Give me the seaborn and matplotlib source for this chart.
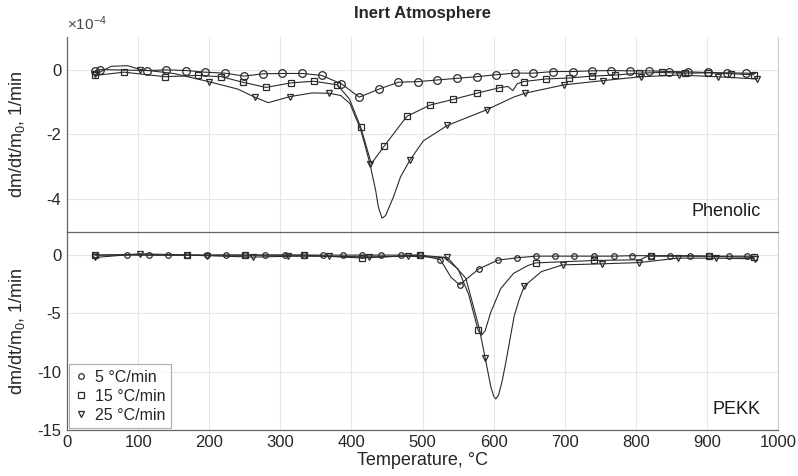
import numpy as np
import pandas as pd
import seaborn as sns
import matplotlib
matplotlib.use("Agg")
import matplotlib.pyplot as plt

# Phenolic, dm/dt/m0 in units of 1e-4 1/min (marker points, then line-only points)
phen5_T = [40, 46, 113, 139, 168, 194, 222, 249, 276, 303, 331, 358, 386, 411, 439, 466,
           494, 521, 548, 576, 603, 630, 656, 684, 711, 738, 765, 792, 819, 846, 873, 901, 928, 955]
phen5_y = [-0.03, 0.0, -0.03, -0.01, -0.03, -0.08, -0.11, -0.2, -0.13, -0.12, -0.12, -0.18, -0.44, -0.85, -0.6, -0.39,
           -0.37, -0.32, -0.27, -0.22, -0.16, -0.11, -0.11, -0.06, -0.06, -0.04, -0.03, -0.04, -0.04, -0.06, -0.07, -0.09, -0.1, -0.11]
phen5_xT = [968]
phen5_xy = [-0.12]

phen15_T = [40, 80, 138, 184, 217, 247, 280, 315, 347, 380, 413, 446, 478, 511, 543, 576, 608,
            642, 673, 706, 739, 771, 804, 837, 869, 901, 934, 966]
phen15_y = [-0.18, -0.08, -0.22, -0.18, -0.22, -0.39, -0.55, -0.41, -0.36, -0.47, -1.77, -2.36, -1.44, -1.09, -0.92, -0.73, -0.56,
            -0.37, -0.29, -0.26, -0.2, -0.17, -0.11, -0.09, -0.11, -0.1, -0.13, -0.16]
phen15_xT = [397, 428, 620, 627, 633]
phen15_xy = [-0.9, -2.9, -0.52, -0.65, -0.44]

phen25_T = [40, 103, 199, 264, 314, 369, 426, 482, 535, 590, 644, 699, 754, 807, 861, 915, 970]
phen25_y = [-0.15, 0.0, -0.37, -0.85, -0.83, -0.73, -2.9, -2.8, -1.72, -1.24, -0.73, -0.47, -0.34, -0.22, -0.17, -0.22, -0.29]
phen25_xT = [62, 85, 150, 240, 283, 345, 385, 398, 413, 434, 438, 443, 448, 459, 469, 501, 628]
phen25_xy = [0.1, 0.12, -0.12, -0.6, -1.02, -0.72, -0.8, -1.05, -1.85, -3.72, -4.25, -4.58, -4.5, -3.93, -3.31, -2.2, -0.85]

# PEKK, dm/dt/m0 in 1/min
pekk5_T = [40, 84, 115, 142, 169, 197, 224, 251, 279, 306, 333, 360, 388, 415, 442, 470, 496,
           525, 552, 579, 606, 633, 659, 686, 713, 741, 769, 795, 822, 848, 876, 903, 931, 957]
pekk5_y = [0.0, 0.05, 0.0, 0.0, 0.0, 0.0, 0.0, 0.0, 0.0, 0.0, 0.0, 0.0, 0.0, 0.0, 0.0, 0.0, 0.0,
           -0.38, -2.55, -1.19, -0.43, -0.23, -0.09, -0.09, -0.09, -0.09, -0.09, -0.05, -0.05, -0.05, -0.05, -0.09, -0.09, -0.09]
pekk5_xT = [540, 968]
pekk5_xy = [-1.9, -0.1]

pekk15_T = [40, 169, 251, 333, 415, 496, 578, 659, 741, 822, 903, 966]
pekk15_y = [0.0, 0.0, 0.0, 0.0, -0.25, 0.0, -6.43, -0.67, -0.46, -0.09, -0.1, -0.2]
pekk15_xT = [530, 550, 565, 583, 588, 596, 610, 628, 648, 806, 816]
pekk15_xy = [-0.2, -1.2, -3.4, -6.87, -6.5, -4.9, -2.87, -1.57, -0.9, -0.4, -0.1]

pekk25_T = [40, 103, 197, 262, 311, 368, 424, 479, 535, 588, 643, 697, 752, 805, 859, 913, 967]
pekk25_y = [-0.2, 0.12, -0.05, -0.17, -0.1, -0.1, -0.15, -0.1, -0.2, -8.8, -2.67, -0.84, -0.75, -0.64, -0.26, -0.26, -0.32]
pekk25_xT = [561, 580, 596, 600, 603, 607, 612, 617, 629, 636, 667]
pekk25_xy = [-2.0, -6.35, -11.3, -12.1, -12.35, -12.0, -10.8, -9.25, -5.2, -3.8, -1.42]

labels = ["5 °C/min", "15 °C/min", "25 °C/min"]
markers = ["o", "s", "v"]


def frame(T, y, xT, xy, label):
    line = pd.DataFrame({"T": T + xT, "y": y + xy}).sort_values("T")
    line["rate"] = label
    pts = pd.DataFrame({"T": T, "y": y, "rate": label})
    return line, pts


sns.set_theme(style="whitegrid")
plt.rcParams["font.family"] = ["Liberation Sans", "DejaVu Sans"]
plt.rcParams["mathtext.fontset"] = "custom"
plt.rcParams["mathtext.rm"] = "Liberation Sans"
plt.rcParams["mathtext.it"] = "Liberation Sans"
plt.rcParams["axes.unicode_minus"] = False

fig = plt.figure(figsize=(7.98, 4.76), dpi=100)
ax2 = fig.add_axes([0.084, 0.097, 0.891, 0.416])
ax1 = fig.add_axes([0.084, 0.513, 0.891, 0.409])

panels = [
    (ax1, [(phen5_T, phen5_y, phen5_xT, phen5_xy), (phen15_T, phen15_y, phen15_xT, phen15_xy),
           (phen25_T, phen25_y, phen25_xT, phen25_xy)]),
    (ax2, [(pekk5_T, pekk5_y, pekk5_xT, pekk5_xy), (pekk15_T, pekk15_y, pekk15_xT, pekk15_xy),
           (pekk25_T, pekk25_y, pekk25_xT, pekk25_xy)]),
]

ink = "#2b2b2b"
for ax, series in panels:
    for (T, y, xT, xy), lab, mk in zip(series, labels, markers):
        line, pts = frame(T, y, xT, xy, lab)
        sns.lineplot(data=line, x="T", y="y", ax=ax, color=ink, lw=0.8,
                     sort=False, estimator=None, legend=False)
        ms = 5.5 if mk == "o" else 5
        ax.plot(pts["T"], pts["y"], ls="none", marker=mk, ms=ms, mfc="none",
                mec=ink, mew=0.9, label=lab)

    ax.set_xlim(0, 1000)
    ax.set_xticks(np.arange(0, 1001, 100))
    ax.grid(True, color="#e6e6e6", lw=0.8)
    ax.patch.set_alpha(0)
    ax.tick_params(direction="in", length=4, color="#777777", labelsize=12,
                   labelcolor="#262626", pad=4)
    ax.spines["top"].set_visible(False)
    for s in ["left", "bottom"]:
        ax.spines[s].set_color("#666666")
        ax.spines[s].set_linewidth(0.9)
    ax.spines["right"].set_color("#d0d0d0")
    ax.spines["right"].set_linewidth(0.8)
    ax.set_ylabel("dm/dt/m$_0$, 1/min", fontsize=13, color="#262626")
    ax.yaxis.set_label_coords(-0.056, 0.5)
    ax.set_xlabel("")

ax1.set_ylim(-5, 1)
ax1.set_yticks([-4, -2, 0])
ax1.tick_params(labelbottom=False)
ax1.text(0.0, 1.02, "×10$^{-4}$", transform=ax1.transAxes, fontsize=11,
         color="#444444", ha="left", va="bottom")
ax1.set_title("Inert Atmosphere", fontsize=12, fontweight="bold", pad=14)
ax1.text(0.975, 0.06, "Phenolic", transform=ax1.transAxes, fontsize=13,
         ha="right", va="bottom", color="#1a1a1a")

ax2.set_ylim(-15, 2)
ax2.set_yticks([-15, -10, -5, 0])
ax2.set_xlabel("Temperature, °C", fontsize=13, color="#262626", labelpad=1)
ax2.text(0.975, 0.06, "PEKK", transform=ax2.transAxes, fontsize=13,
         ha="right", va="bottom", color="#1a1a1a")

handles, labs = ax2.get_legend_handles_labels()
for h in handles:
    h.set_markersize(4)
leg = ax2.legend(handles, labs, loc="lower left", fontsize=11.5, frameon=True,
                 fancybox=False, edgecolor="#999999", borderaxespad=0.1,
                 handlelength=0.8, handletextpad=0.5, labelspacing=0.25,
                 borderpad=0.35)
leg.get_frame().set_linewidth(0.8)

fig.savefig("out.png", dpi=100)
